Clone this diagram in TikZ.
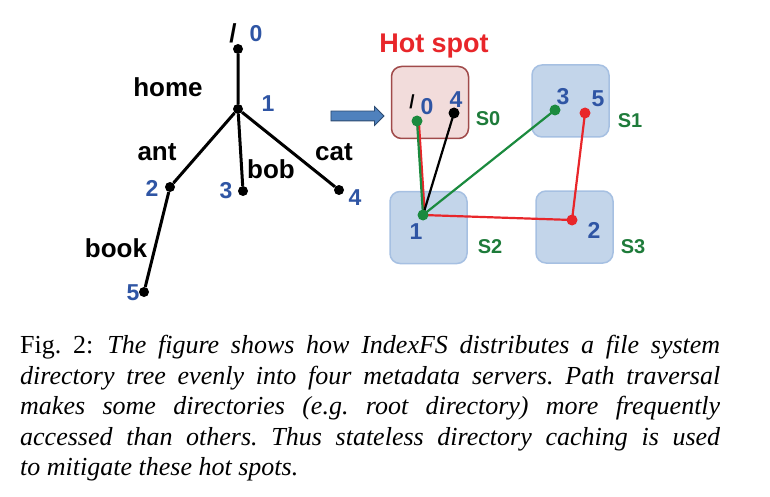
\documentclass[tikz,border=0pt]{standalone}
\usepackage{fontspec}
\setmainfont{Liberation Serif}
\newfontfamily\labelfont{Liberation Sans}
\usetikzlibrary{positioning, shapes.arrows}
\definecolor{numblue}{HTML}{2F55A4}
\definecolor{srvgreen}{HTML}{1E7B3A}
\definecolor{dotgreen}{HTML}{1B8A3E}
\definecolor{hotred}{HTML}{E8262A}
\definecolor{boxblue}{HTML}{C3D5EA}
\definecolor{boxedge}{HTML}{A6C0E2}
\definecolor{hotfill}{HTML}{F2DCDB}
\definecolor{hotedge}{HTML}{A04A4A}
\definecolor{arrowblue}{HTML}{4F81BD}
\definecolor{arrowedge}{HTML}{2C4A70}
\pgfdeclarelayer{boxes}
\pgfdeclarelayer{lines}
\pgfsetlayers{boxes,lines,main}
\tikzset{
x=1pt, y=-1pt, % one unit is one pixel of the drawing, y runs down
dot/.style={circle, fill=black, inner sep=0pt, minimum size=10pt}, % a directory
word/.style={font=\labelfont\bfseries\fontsize{26}{26}\selectfont, inner sep=0pt}, % a name in the tree
num/.style={word, text=numblue, font=\labelfont\bfseries\fontsize{23}{23}\selectfont}, % a directory number
srv/.style={word, text=srvgreen, font=\labelfont\bfseries\fontsize{20}{20}\selectfont}, % a server name
srvbox/.style={rounded corners=10pt, fill=boxblue, draw=boxedge, line width=1.5pt, minimum width=77pt, minimum height=72pt}, % a metadata server
hot/.style={fill=hotfill, draw=hotedge}, % the hot server
link/.style={line width=3pt}, % a tree edge
hop/.style={line width=2.2pt}, % a connector between servers
}

\begin{document}
\begin{tikzpicture}
\useasboundingbox (0,0) rectangle (770,497);

% the directory tree
\node[dot] (t0) at (238,49) {};
\node[dot] (t1) at (238,109) {};
\node[dot] (t2) at (170,187) {};
\node[dot] (t3) at (243,191) {};
\node[dot] (t4) at (339,190) {};
\node[dot] (t5) at (144,292) {};
\draw[link] (t0) -- (t1) (t1) -- (t2) (t1) -- (t3) (t1) -- (t4) (t2) -- (t5);

\node[word] (root) at (233,33) {/};
\node[num] at (256,34) {0};
\node[word] (home) at (168,87) {home};
\node[num] at (268,104) {1};
\node[word] (ant) at (157,152) {ant};
\node[num] at (152,188) {2};
\node[word] (bob) at (271,169) {bob};
\node[num] at (226,191) {3};
\node[word] (cat) at (334,152) {cat};
\node[num] at (355,198) {4};
\node[word] (book) at (116,248) {book};
\node[num] at (133,293) {5};

% arrow to the servers
\node[single arrow, fill=arrowblue, draw=arrowedge, line width=0.8pt, minimum height=53pt, text height=9pt, text depth=0pt, text width=0pt, single arrow head extend=4.5pt, single arrow head indent=0pt, inner sep=0pt] (go) at (355,116) {};

% the four metadata servers
\begin{pgfonlayer}{boxes}
\node[srvbox, hot] (b0) at (430,102.5) {};
\node[srvbox] (b1) at (570.5,101) {};
\node[srvbox] (b2) at (428.5,227.5) {};
\node[srvbox] (b3) at (574.5,227) {};
\end{pgfonlayer}
\node[word, text=hotred, anchor=base, font=\labelfont\bfseries\fontsize{27}{27}\selectfont] (hotspot) at (434,53) {Hot spot};
\node[srv] at (488,119) {S0};
\node[srv] at (630,121) {S1};
\node[srv] at (490,247) {S2};
\node[srv] at (633,247) {S3};

\node[dot, fill=dotgreen, minimum size=11pt] (d0) at (417,121) {};
\node[dot, minimum size=11pt] (d4) at (454,113) {};
\node[dot, fill=dotgreen, minimum size=11pt] (d3) at (555,110) {};
\node[dot, fill=hotred, minimum size=11pt] (d5) at (585,113) {};
\node[dot, fill=hotred, minimum size=11pt] (d2) at (572,220) {};
\node[dot, fill=dotgreen, minimum size=11pt] (d1) at (423,215) {};

\begin{pgfonlayer}{lines}
\draw[hop, hotred] ([xshift=1.8pt]d0.center) -- ([xshift=1.8pt]d1.center);
\draw[hop, dotgreen] (d0.center) -- (d1.center);
\draw[hop] (d4.center) -- (d1.center);
\draw[hop, dotgreen] (d3.center) -- (d1.center);
\draw[hop, hotred] (d1.center) -- (d2.center);
\draw[hop, hotred] (d2.center) -- (d5.center);
\end{pgfonlayer}

\node[word, font=\labelfont\bfseries\fontsize{19}{19}\selectfont] at (412,102) {/};
\node[num] at (427,107) {0};
\node[num] at (456,100) {4};
\node[num] at (563,97) {3};
\node[num] at (598,99) {5};
\node[num] at (416,232) {1};
\node[num] at (594,230) {2};

% caption
\node[anchor=north west, inner sep=0pt, text width=700pt, align=justify, font=\fontsize{26}{30.5}\selectfont\frenchspacing] (caption) at (20,335) {Fig.~2:\hspace{14pt}\textit{The figure shows how IndexFS distributes a file system\linebreak directory tree evenly into four metadata servers. Path traversal\linebreak makes some directories (e.g. root directory) more frequently\linebreak accessed than others. Thus stateless directory caching is used\linebreak to mitigate these hot spots.}};
\end{tikzpicture}
\end{document}
